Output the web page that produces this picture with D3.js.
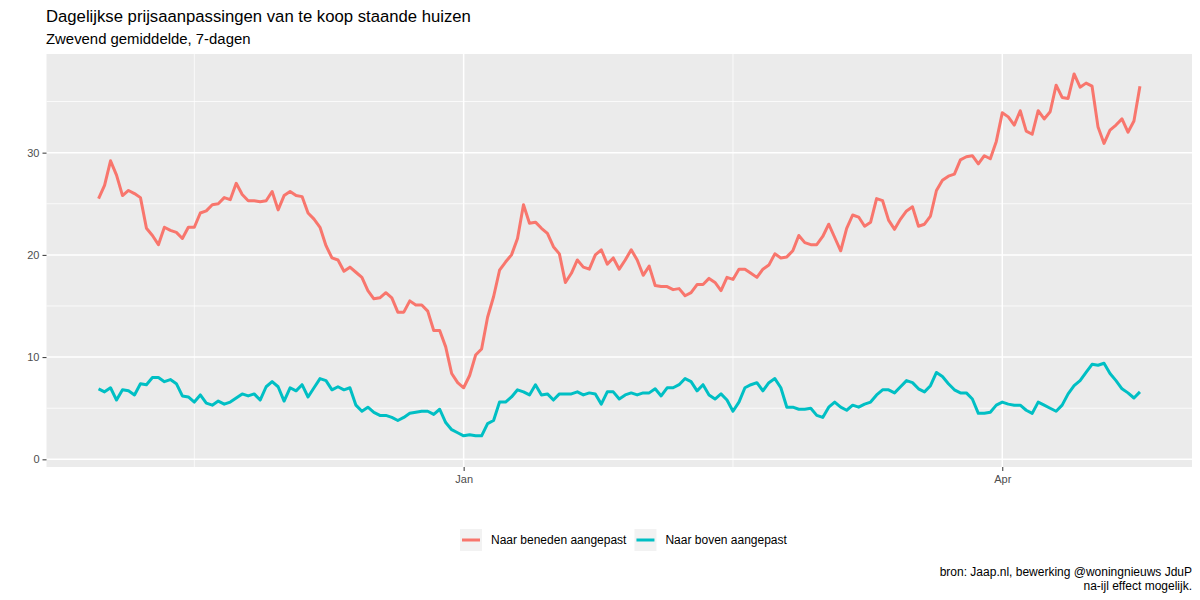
<!DOCTYPE html>
<html><head><meta charset="utf-8">
<script src="https://cdn.jsdelivr.net/npm/d3@7"></script>
<style>
body{margin:0;background:#fff}
svg{display:block}
text{font-family:"Liberation Sans",Arial,Helvetica,sans-serif}
</style>
</head><body>
<svg id="chart" width="1200" height="600"></svg>
<script>
// ---------- data ----------
const startDate = "2021-11-01";           // first daily observation
const seriesNames = ["Naar beneden aangepast", "Naar boven aangepast"];
const seriesColors = ["#F8766D", "#00BFC4"];

const downValues = [
  25.5, 26.8, 29.2, 27.8, 25.8, 26.3, 26.0, 25.6, 22.6, 21.9,
  21.0, 22.7, 22.4, 22.2, 21.6, 22.7, 22.7, 24.1, 24.3, 24.9,
  25.0, 25.6, 25.4, 27.0, 25.9, 25.3, 25.3, 25.2, 25.3, 26.2,
  24.4, 25.8, 26.2, 25.8, 25.7, 24.1, 23.5, 22.7, 20.9, 19.7,
  19.5, 18.4, 18.8, 18.3, 17.8, 16.5, 15.7, 15.8, 16.3, 15.8,
  14.4, 14.4, 15.5, 15.1, 15.1, 14.5, 12.6, 12.6, 11.0, 8.4,
  7.5, 7.0, 8.2, 10.2, 10.8, 13.9, 15.9, 18.5, 19.3, 20.0,
  21.6, 24.9, 23.1, 23.2, 22.6, 22.1, 20.8, 20.1, 17.3, 18.2,
  19.5, 18.8, 18.6, 20.0, 20.5, 19.1, 19.7, 18.6, 19.5, 20.5,
  19.5, 18.0, 18.9, 17.0, 16.9, 16.9, 16.6, 16.7, 16.0, 16.3,
  17.1, 17.1, 17.7, 17.3, 16.5, 17.8, 17.6, 18.6, 18.6, 18.2,
  17.8, 18.6, 19.0, 20.1, 19.7, 19.8, 20.4, 21.9, 21.2, 21.0,
  21.0, 21.8, 23.0, 21.7, 20.4, 22.6, 23.9, 23.7, 22.8, 23.2,
  25.5, 25.3, 23.4, 22.5, 23.5, 24.3, 24.7, 22.8, 23.0, 23.8,
  26.3, 27.3, 27.7, 27.9, 29.3, 29.6, 29.7, 28.9, 29.7, 29.4,
  31.1, 33.9, 33.5, 32.7, 34.1, 32.1, 31.8, 34.1, 33.3, 34.0,
  36.6, 35.4, 35.3, 37.7, 36.4, 36.8, 36.5, 32.5, 30.9, 32.2,
  32.7, 33.3, 32.0, 33.1, 36.5
];

const upValues = [
  6.9, 6.6, 7.0, 5.8, 6.8, 6.7, 6.3, 7.4, 7.3, 8.0,
  8.0, 7.6, 7.8, 7.4, 6.2, 6.1, 5.6, 6.3, 5.5, 5.3,
  5.7, 5.4, 5.6, 6.0, 6.4, 6.2, 6.4, 5.8, 7.1, 7.6,
  7.1, 5.7, 7.0, 6.7, 7.3, 6.1, 7.0, 7.9, 7.7, 6.8,
  7.1, 6.8, 7.0, 5.3, 4.7, 5.1, 4.6, 4.3, 4.3, 4.1,
  3.8, 4.1, 4.5, 4.6, 4.7, 4.7, 4.4, 4.9, 3.6, 2.9,
  2.6, 2.3, 2.4, 2.3, 2.3, 3.5, 3.8, 5.6, 5.6, 6.1,
  6.8, 6.6, 6.3, 7.3, 6.3, 6.4, 5.8, 6.4, 6.4, 6.4,
  6.6, 6.3, 6.5, 6.4, 5.4, 6.6, 6.6, 5.9, 6.3, 6.5,
  6.3, 6.5, 6.5, 6.9, 6.2, 7.0, 7.0, 7.3, 7.9, 7.6,
  6.7, 7.3, 6.3, 5.9, 6.4, 5.8, 4.7, 5.6, 7.0, 7.3,
  7.5, 6.7, 7.5, 7.9, 7.0, 5.1, 5.1, 4.9, 4.9, 5.0,
  4.3, 4.1, 5.1, 5.6, 5.1, 4.8, 5.3, 5.1, 5.4, 5.6,
  6.3, 6.8, 6.8, 6.5, 7.1, 7.7, 7.5, 6.9, 6.6, 7.2,
  8.5, 8.1, 7.4, 6.8, 6.5, 6.5, 5.9, 4.5, 4.5, 4.6,
  5.3, 5.6, 5.4, 5.3, 5.3, 4.8, 4.5, 5.6, 5.3, 5.0,
  4.7, 5.3, 6.4, 7.2, 7.7, 8.5, 9.3, 9.2, 9.4, 8.4,
  7.7, 6.9, 6.5, 6.0, 6.6
];

const yTicks = [0, 10, 20, 30];
const yMinorTicks = [5, 15, 25, 35];
const xTickDates = ["2022-01-01", "2022-04-01"];
const xTickLabels = ["Jan", "Apr"];
const xMinorDates = ["2021-11-17", "2022-02-15"];

const titleText = "Dagelijkse prijsaanpassingen van te koop staande huizen";
const subtitleText = "Zwevend gemiddelde, 7-dagen";
const captionLines = ["bron: Jaap.nl, bewerking @woningnieuws JduP", "na-ijl effect mogelijk."];

// ---------- layout ----------
const panel = {left: 46.5, right: 1192, top: 54, bottom: 467};
const parse = d3.utcParse("%Y-%m-%d");
const start = parse(startDate);
const dates = downValues.map((_, i) => d3.utcDay.offset(start, i));

const series = [downValues, upValues].map((vals, k) => ({
  name: seriesNames[k], color: seriesColors[k],
  points: vals.map((v, i) => ({date: dates[i], value: v}))
}));

// ggplot-like 5% expansion on x
const [d0, d1] = d3.extent(dates);
const span = d1 - d0;
const x = d3.scaleUtc()
  .domain([new Date(+d0 - 0.05 * span), new Date(+d1 + 0.05 * span)])
  .range([panel.left, panel.right]);
const y = d3.scaleLinear().domain([-0.75, 39.65]).range([panel.bottom, panel.top]);

const svg = d3.select("#chart");

// panel background
svg.append("rect")
  .attr("x", panel.left).attr("y", panel.top)
  .attr("width", panel.right - panel.left).attr("height", panel.bottom - panel.top)
  .attr("fill", "#EBEBEB");

const grid = svg.append("g");
// minor grid
grid.selectAll("line.ymin").data(yMinorTicks).join("line")
  .attr("x1", panel.left).attr("x2", panel.right)
  .attr("y1", d => y(d)).attr("y2", d => y(d))
  .attr("stroke", "#fff").attr("stroke-width", 0.75);
grid.selectAll("line.xmin").data(xMinorDates.map(parse)).join("line")
  .attr("y1", panel.top).attr("y2", panel.bottom)
  .attr("x1", d => x(d)).attr("x2", d => x(d))
  .attr("stroke", "#fff").attr("stroke-width", 0.75);
// major grid
grid.selectAll("line.ymaj").data(yTicks).join("line")
  .attr("x1", panel.left).attr("x2", panel.right)
  .attr("y1", d => y(d)).attr("y2", d => y(d))
  .attr("stroke", "#fff").attr("stroke-width", 1.5);
grid.selectAll("line.xmaj").data(xTickDates.map(parse)).join("line")
  .attr("y1", panel.top).attr("y2", panel.bottom)
  .attr("x1", d => x(d)).attr("x2", d => x(d))
  .attr("stroke", "#fff").attr("stroke-width", 1.5);

// lines
const line = d3.line().x(d => x(d.date)).y(d => y(d.value));
svg.append("g").selectAll("path").data(series).join("path")
  .attr("d", d => line(d.points))
  .attr("fill", "none")
  .attr("stroke", d => d.color)
  .attr("stroke-width", 3)
  .attr("stroke-linejoin", "round");

// axes
const yAxis = d3.axisLeft(y).tickValues(yTicks).tickSize(4).tickPadding(3).tickFormat(d3.format("d"));
const gy = svg.append("g").attr("transform", `translate(${panel.left},0)`).call(yAxis);
const xAxis = d3.axisBottom(x).tickValues(xTickDates.map(parse)).tickSize(4).tickPadding(4)
  .tickFormat((d, i) => xTickLabels[i]);
const gx = svg.append("g").attr("transform", `translate(0,${panel.bottom})`).call(xAxis);
[gx, gy].forEach(g => {
  g.select(".domain").remove();
  g.selectAll(".tick line").attr("stroke", "#333333").attr("stroke-width", 1);
  g.selectAll(".tick text").attr("fill", "#4D4D4D").attr("font-size", 11)
    .attr("font-family", '"Liberation Sans",Arial,sans-serif');
});

// titles
svg.append("text").attr("x", 46).attr("y", 22).attr("font-size", 16.7).attr("fill", "#000").text(titleText);
svg.append("text").attr("x", 46).attr("y", 44).attr("font-size", 14.9).attr("fill", "#000").text(subtitleText);

// legend
const legend = svg.append("g");
let lx = 460;
const ly = 529, key = 22;
series.forEach(s => {
  const g = legend.append("g");
  g.append("rect").attr("x", lx).attr("y", ly).attr("width", key).attr("height", key).attr("fill", "#F2F2F2");
  g.append("line").attr("x1", lx + 2).attr("x2", lx + key - 2)
    .attr("y1", ly + key / 2).attr("y2", ly + key / 2)
    .attr("stroke", s.color).attr("stroke-width", 3);
  const t = g.append("text").attr("x", lx + key + 9).attr("y", ly + key / 2)
    .attr("dy", "0.35em").attr("font-size", 12).attr("fill", "#000").text(s.name);
  lx = lx + key + 9 + t.node().getComputedTextLength() + 8;
});

// caption
svg.append("g").selectAll("text").data(captionLines).join("text")
  .attr("x", 1192).attr("y", (d, i) => 576 + i * 14)
  .attr("text-anchor", "end").attr("font-size", 12).attr("fill", "#000")
  .text(d => d);
</script>
</body></html>
